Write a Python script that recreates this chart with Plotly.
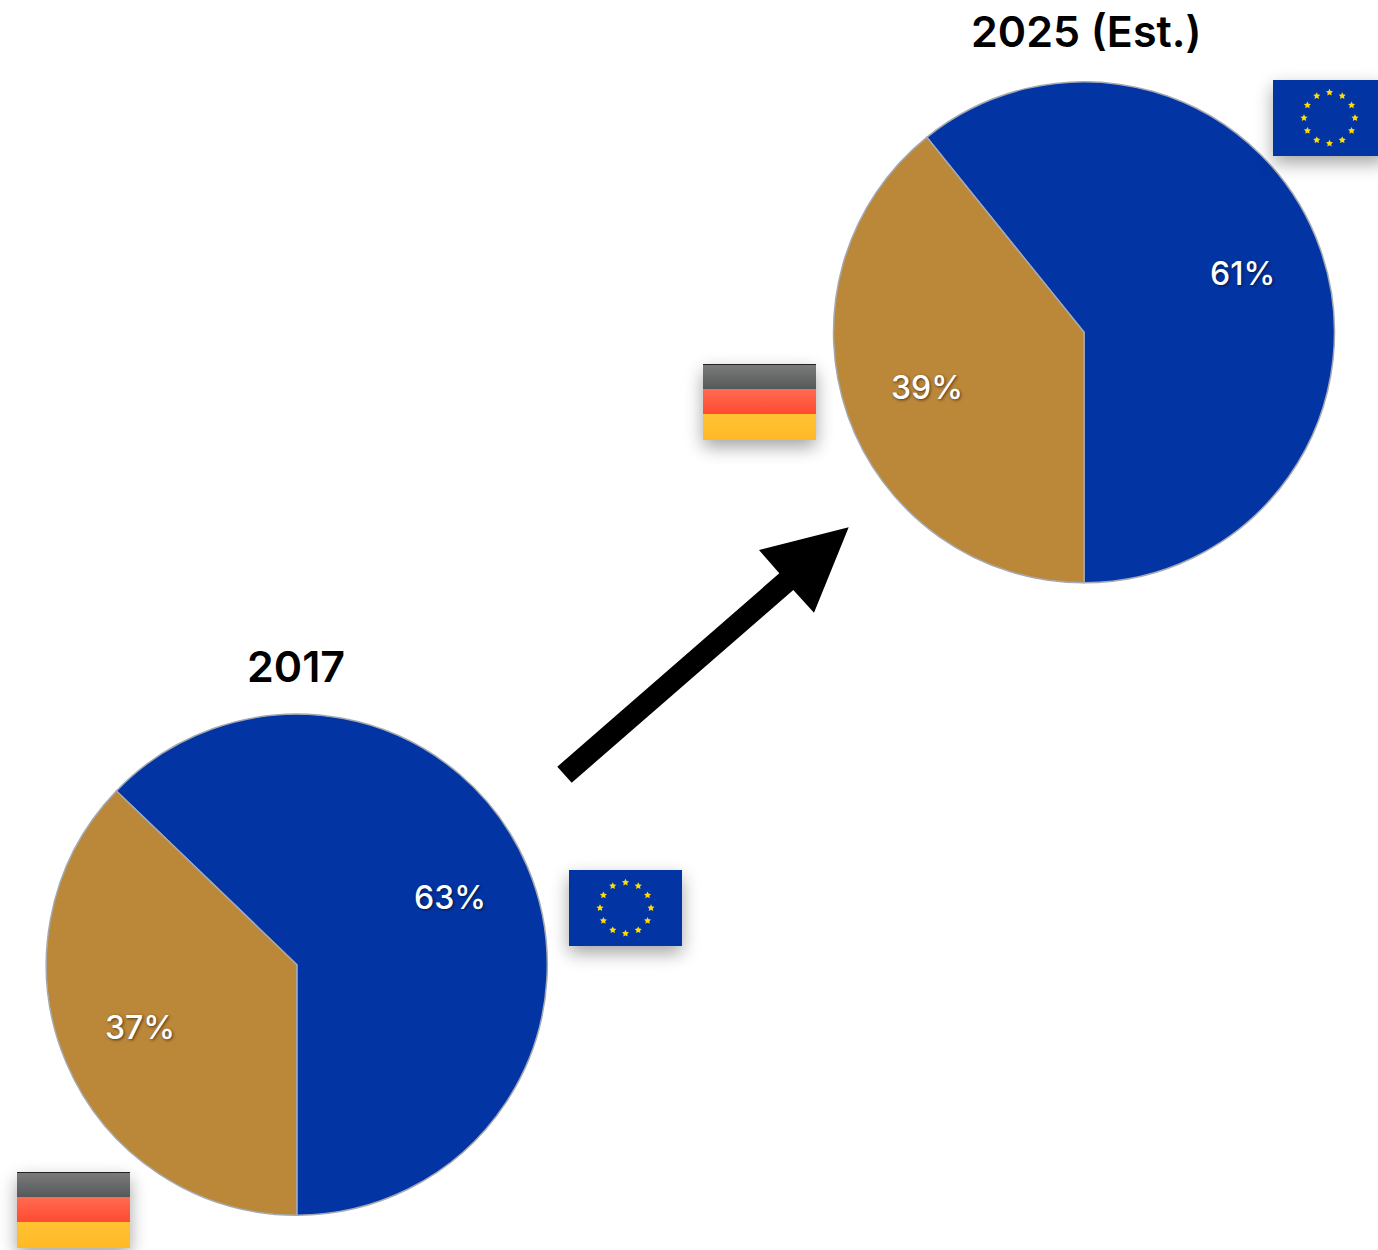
import base64, math
import plotly.graph_objects as go

W, H = 1378, 1250
CATEGORIES = ["EU", "Germany"]
COLORS = ["#0235A3", "#BB8738"]
TITLE_2017 = "2017"
TITLE_2025 = "2025 (Est.)"
VALUES_2017 = [62.8, 37.2]
VALUES_2025 = [60.8, 39.2]
FONT = "Inter"


def px(x):
    return x / W


def py(y):
    return 1 - y / H


def pie(values, cx, cy, r):
    blue_deg = values[0] * 3.6
    return go.Pie(
        labels=CATEGORIES, values=values, sort=False, direction="clockwise",
        rotation=180 - blue_deg, textinfo="none", hole=0, showlegend=False,
        marker=dict(colors=COLORS, line=dict(color="#A4A9B0", width=1.5)),
        domain=dict(x=[px(cx - r), px(cx + r)], y=[py(cy + r), py(cy - r)]),
    )


def star_points(cx, cy, R):
    pts = []
    for i in range(10):
        a = -math.pi / 2 + i * math.pi / 5
        rr = R if i % 2 == 0 else R * 0.5
        pts.append(f"{cx + rr * math.cos(a):.2f},{cy + rr * math.sin(a):.2f}")
    return " ".join(pts)


PAD = 30
FW, FH = 113, 76
DEFS = (
    '<filter id="s" x="-40%" y="-40%" width="180%" height="190%">'
    '<feGaussianBlur stdDeviation="9"/></filter>'
    '<filter id="b" x="-40%" y="-40%" width="180%" height="180%"><feGaussianBlur stdDeviation="0.5"/></filter>'
    '<linearGradient id="g1" x1="0" y1="0" x2="0" y2="1"><stop offset="0" stop-color="#7c7c7c"/><stop offset="1" stop-color="#555859"/></linearGradient>'
    '<linearGradient id="g2" x1="0" y1="0" x2="0" y2="1"><stop offset="0" stop-color="#FF6B52"/><stop offset="1" stop-color="#FF4A30"/></linearGradient>'
    '<linearGradient id="g3" x1="0" y1="0" x2="0" y2="1"><stop offset="0" stop-color="#FFC233"/><stop offset="1" stop-color="#FFB927"/></linearGradient>'
)
SHADOW = f'<rect x="{PAD}" y="{PAD + 7}" width="{FW}" height="{FH}" fill="#000" opacity="0.36" filter="url(#s)"/>'


def svg_uri(body):
    w, h = FW + 2 * PAD, FH + 2 * PAD
    svg = (f'<svg xmlns="http://www.w3.org/2000/svg" width="{w}" height="{h}" viewBox="0 0 {w} {h}">'
           f'<defs>{DEFS}</defs>{SHADOW}{body}</svg>')
    return "data:image/svg+xml;base64," + base64.b64encode(svg.encode()).decode()


def eu_flag():
    body = f'<rect x="{PAD}" y="{PAD}" width="{FW}" height="{FH}" fill="#0235A3"/>'
    cx, cy = PAD + FW / 2, PAD + FH / 2
    body += '<g filter="url(#b)">'
    for i in range(12):
        a = i * math.pi / 6
        body += f'<polygon points="{star_points(cx + 25.5 * math.sin(a), cy - 25.5 * math.cos(a), 3.7)}" fill="#FFDD00"/>'
    body += '</g>'
    return svg_uri(body)


def de_flag():
    body = (f'<rect x="{PAD}" y="{PAD}" width="{FW}" height="25.5" fill="url(#g1)"/>'
            f'<rect x="{PAD}" y="{PAD + 25}" width="{FW}" height="25.5" fill="url(#g2)"/>'
            f'<rect x="{PAD}" y="{PAD + 50}" width="{FW}" height="26" fill="url(#g3)"/>'
            f'<rect x="{PAD}" y="{PAD}" width="{FW}" height="1" fill="#222"/>')
    return svg_uri(body)


def flag(src, x, y):
    return dict(source=src, xref="paper", yref="paper", x=px(x - PAD), y=py(y - PAD),
                sizex=(FW + 2 * PAD) / W, sizey=(FH + 2 * PAD) / H,
                xanchor="left", yanchor="top", sizing="stretch", layer="above")


def label(value, x, y):
    return dict(text=f"{round(value)}%", xref="paper", yref="paper", x=px(x), y=py(y), showarrow=False,
                xanchor="center", yanchor="middle",
                font=dict(family=FONT, size=32, color="white", weight=500,
                          shadow="1px 1px 3px rgba(0,0,0,0.6)"))


def title(text, x, y):
    return dict(text=text, xref="paper", yref="paper", x=px(x), y=py(y), showarrow=False,
                xanchor="center", yanchor="middle",
                font=dict(family=FONT, size=43, color="#000000", weight=600))


ARROW = [(557.3, 766.7), (779.3, 573.3), (759, 550), (848.7, 527.3), (814, 612.7), (793.3, 590), (571.7, 782.7)]
path = "M " + " L ".join(f"{px(x):.5f} {py(y):.5f}" for x, y in ARROW) + " Z"

fig = go.Figure([pie(VALUES_2017, 296.8, 964.7, 250.5), pie(VALUES_2025, 1084, 332.3, 250.5)])
fig.update_layout(
    width=W, height=H, margin=dict(l=0, r=0, t=0, b=0),
    paper_bgcolor="white", plot_bgcolor="white",
    shapes=[dict(type="path", xref="paper", yref="paper", path=path, fillcolor="black", line=dict(width=0))],
    images=[flag(eu_flag(), 569, 870), flag(de_flag(), 17, 1172), flag(eu_flag(), 1273, 80), flag(de_flag(), 703, 364)],
    annotations=[
        title(TITLE_2017, 296, 666), title(TITLE_2025, 1086, 31),
        label(VALUES_2017[0], 450, 897), label(VALUES_2017[1], 140, 1027),
        label(VALUES_2025[0], 1242, 273), label(VALUES_2025[1], 927, 387),
    ],
)
fig.write_html("out.html", config=dict(displayModeBar=False),
               post_script="document.body.style.margin='0';document.documentElement.style.overflow='hidden';")
